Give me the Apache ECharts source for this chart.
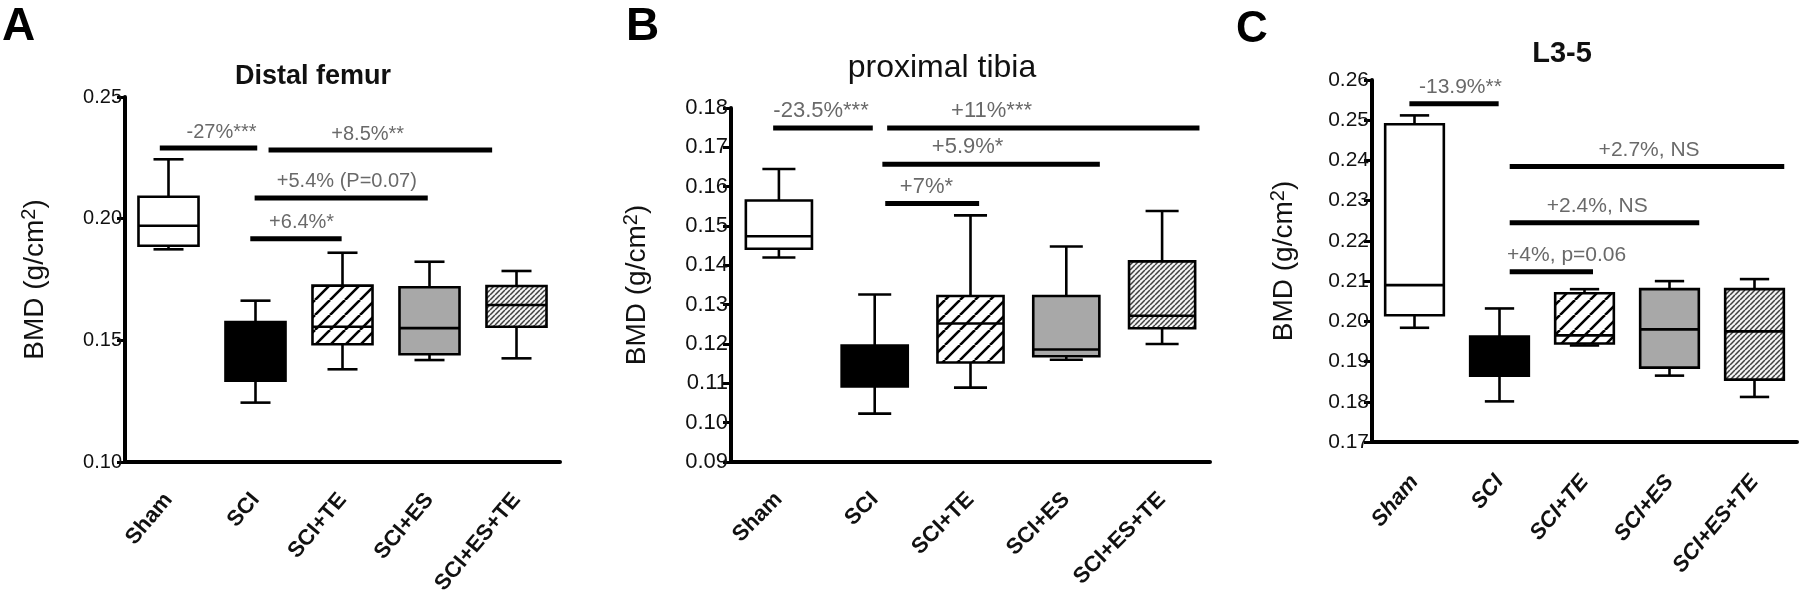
<!DOCTYPE html>
<html><head><meta charset="utf-8">
<script src="https://cdn.jsdelivr.net/npm/echarts@6/dist/echarts.min.js"></script>
<style>html,body{margin:0;padding:0;background:#fff}#c{width:1800px;height:608px}</style>
</head><body><div id="c"></div>
<script>
const categories = ['Sham', 'SCI', 'SCI+TE', 'SCI+ES', 'SCI+ES+TE'];
// each box: [min, Q1, median, Q3, max]
const femurBoxes = [
  [0.1874, 0.1889, 0.1971, 0.2090, 0.2244],
  [0.1244, 0.1334, 0.1450, 0.1575, 0.1663],
  [0.1381, 0.1484, 0.1556, 0.1725, 0.1860],
  [0.1419, 0.1443, 0.1550, 0.1718, 0.1823],
  [0.1426, 0.1556, 0.1645, 0.1723, 0.1785]
];
const tibiaBoxes = [
  [0.1420, 0.1442, 0.1474, 0.1565, 0.1645],
  [0.1023, 0.1092, 0.1140, 0.1196, 0.1326],
  [0.1089, 0.1153, 0.1252, 0.1322, 0.1527],
  [0.1160, 0.1169, 0.1186, 0.1322, 0.1448],
  [0.1200, 0.1240, 0.1272, 0.1410, 0.1538]
];
const lumbarBoxes = [
  [0.1984, 0.2015, 0.2090, 0.2490, 0.2512],
  [0.1801, 0.1865, 0.1920, 0.1962, 0.2032],
  [0.1940, 0.1945, 0.1965, 0.2070, 0.2080],
  [0.1865, 0.1885, 0.1980, 0.2080, 0.2100],
  [0.1812, 0.1855, 0.1975, 0.2080, 0.2105]
];
// comparisons: [from (category units), to, level, label centre, text]
const femurComparisons = [
  [-0.10, 1.02, 0.2290, 0.61, '-27%***'],
  [1.15, 3.72, 0.2282, 2.29, '+8.5%**'],
  [0.99, 2.98, 0.2085, 2.05, '+5.4% (P=0.07)'],
  [0.94, 1.99, 0.1917, 1.53, '+6.4%*']
];
const tibiaComparisons = [
  [-0.06, 0.98, 0.1749, 0.44, '-23.5%***'],
  [1.13, 4.39, 0.1749, 2.22, '+11%***'],
  [1.08, 3.35, 0.1657, 1.97, '+5.9%*'],
  [1.11, 2.09, 0.1557, 1.54, '+7%*']
];
const lumbarComparisons = [
  [-0.06, 0.99, 0.2541, 0.54, '-13.9%**'],
  [1.12, 4.35, 0.2385, 2.76, '+2.7%, NS'],
  [1.12, 3.35, 0.2245, 2.15, '+2.4%, NS'],
  [1.12, 2.10, 0.2123, 1.79, '+4%, p=0.06']
];
const femurTicks = {min: 0.10, max: 0.25, interval: 0.05};
const tibiaTicks = {min: 0.09, max: 0.18, interval: 0.01};
const lumbarTicks = {min: 0.17, max: 0.26, interval: 0.01};
const panelTitles = ['Distal femur', 'proximal tibia', 'L3-5'];
const panelLetters = ['A', 'B', 'C'];

const FONT = "'Liberation Sans', Arial, sans-serif";

function hatch(s, lw, color, bg) {
  const c = document.createElement('canvas');
  c.width = s; c.height = s;
  const g = c.getContext('2d');
  g.fillStyle = bg; g.fillRect(0, 0, s, s);
  g.strokeStyle = color; g.lineWidth = lw;
  g.beginPath();
  for (let k = -1; k <= 1; k++) {
    g.moveTo(k * s, s); g.lineTo(k * s + s, 0);
  }
  g.stroke();
  return {image: c, repeat: 'repeat'};
}
const groupFills = [
  '#ffffff',
  '#000000',
  hatch(15, 2.6, '#000', '#fff'),
  '#a8a8a8',
  hatch(5, 1.5, '#404040', '#f4f4f4')
];

function renderBox(params, api) {
  const i = api.value(0);
  const band = api.size([1, 0])[0];
  const bw = band * 0.69, cw = bw * 0.5;
  const pMin = api.coord([i, api.value(1)]);
  const pQ1 = api.coord([i, api.value(2)]);
  const pMd = api.coord([i, api.value(3)]);
  const pQ3 = api.coord([i, api.value(4)]);
  const pMax = api.coord([i, api.value(5)]);
  const x = pMin[0];
  const ls = {stroke: '#000', lineWidth: 2.6};
  return {
    type: 'group',
    children: [
      {type: 'line', shape: {x1: x, y1: pMax[1], x2: x, y2: pQ3[1]}, style: ls},
      {type: 'line', shape: {x1: x, y1: pQ1[1], x2: x, y2: pMin[1]}, style: ls},
      {type: 'line', shape: {x1: x - cw / 2, y1: pMax[1], x2: x + cw / 2, y2: pMax[1]}, style: ls},
      {type: 'line', shape: {x1: x - cw / 2, y1: pMin[1], x2: x + cw / 2, y2: pMin[1]}, style: ls},
      {type: 'rect', shape: {x: x - bw / 2, y: pQ3[1], width: bw, height: pQ1[1] - pQ3[1]},
        style: {fill: groupFills[i], stroke: '#000', lineWidth: 2.6}},
      {type: 'line', shape: {x1: x - bw / 2, y1: pMd[1], x2: x + bw / 2, y2: pMd[1]}, style: ls}
    ]
  };
}

const panels = [
  {boxes: femurBoxes, comps: femurComparisons, ticks: femurTicks,
   grid: {left: 125, top: 97, width: 435, height: 365}, rotate: 50, margin: 34,
   tickFont: 20, compFont: 20, nameGap: 74},
  {boxes: tibiaBoxes, comps: tibiaComparisons, ticks: tibiaTicks,
   grid: {left: 731, top: 108, width: 479, height: 354}, rotate: 45, margin: 34,
   tickFont: 22, compFont: 22, nameGap: 78},
  {boxes: lumbarBoxes, comps: lumbarComparisons, ticks: lumbarTicks,
   grid: {left: 1372, top: 80, width: 425, height: 362}, rotate: 50, margin: 36,
   tickFont: 21, compFont: 21, nameGap: 72}
];

const grid = [], xAxis = [], yAxis = [], series = [];
panels.forEach((p, k) => {
  grid.push(p.grid);
  xAxis.push({
    type: 'category', gridIndex: k, data: categories, boundaryGap: true,
    axisLine: {onZero: false, lineStyle: {color: '#000', width: 4}},
    axisTick: {alignWithLabel: true, length: 8, lineStyle: {color: '#000', width: 3}},
    axisLabel: {rotate: p.rotate, margin: p.margin, fontSize: 22, fontWeight: 'bold',
      color: '#111', fontFamily: FONT, fontStyle: k === 2 ? 'italic' : 'normal', interval: 0},
    splitLine: {show: false}
  });
  yAxis.push({
    type: 'value', gridIndex: k, min: p.ticks.min, max: p.ticks.max, interval: p.ticks.interval,
    axisLine: {show: true, onZero: false, lineStyle: {color: '#000', width: 4}},
    axisTick: {show: true, length: 8, lineStyle: {color: '#000', width: 3}},
    axisLabel: {fontSize: p.tickFont, color: '#111', fontFamily: FONT, margin: 3,
      formatter: v => v.toFixed(2)},
    splitLine: {show: false},
    name: '{a|BMD (g/cm}{b|2}{a|)}', nameLocation: 'middle', nameRotate: 90, nameGap: p.nameGap,
    nameTextStyle: {rich: {
      a: {fontSize: 28, fontFamily: FONT, color: '#111', lineHeight: 32},
      b: {fontSize: 20, fontFamily: FONT, color: '#111', verticalAlign: 'top', lineHeight: 32}
    }}
  });
});
panels.forEach((p, k) => {
  xAxis.push({type: 'value', gridIndex: k, min: -0.5, max: 4.5, show: false,
    axisLine: {onZero: false}});
});
panels.forEach((p, k) => {
  series.push({
    type: 'custom', xAxisIndex: k, yAxisIndex: k, renderItem: renderBox, clip: false,
    data: p.boxes.map((b, i) => [i].concat(b)), silent: true
  });
  p.comps.forEach(c => {
    series.push({
      type: 'line', xAxisIndex: 3 + k, yAxisIndex: k, symbol: 'none', silent: true,
      lineStyle: {color: '#000', width: 5},
      data: [[c[0], c[2]], [c[1], c[2]]]
    });
  });
  series.push({
    type: 'scatter', xAxisIndex: 3 + k, yAxisIndex: k, symbolSize: 0, silent: true,
    itemStyle: {color: 'rgba(0,0,0,0)'},
    label: {show: true, position: 'top', distance: 6, fontSize: p.compFont, fontFamily: FONT,
      color: '#444', formatter: d => d.data[2]},
    data: p.comps.map(c => [c[3], c[2], c[4]])
  });
});

const graphic = [
  {type: 'text', x: 2, y: 27, style: {text: panelLetters[0], font: 'bold 46px ' + FONT, fill: '#000', textVerticalAlign: 'middle'}},
  {type: 'text', x: 626, y: 27, style: {text: panelLetters[1], font: 'bold 46px ' + FONT, fill: '#000', textVerticalAlign: 'middle'}},
  {type: 'text', x: 1236, y: 30, style: {text: panelLetters[2], font: 'bold 44px ' + FONT, fill: '#000', textVerticalAlign: 'middle'}},
  {type: 'text', x: 313, y: 77, style: {text: panelTitles[0], font: 'bold 27px ' + FONT, fill: '#111', textAlign: 'center', textVerticalAlign: 'middle'}},
  {type: 'text', x: 942, y: 68, style: {text: panelTitles[1], font: '32px ' + FONT, fill: '#111', textAlign: 'center', textVerticalAlign: 'middle'}},
  {type: 'text', x: 1562, y: 54, style: {text: panelTitles[2], font: 'bold 29px ' + FONT, fill: '#111', textAlign: 'center', textVerticalAlign: 'middle'}}
];

const chart = echarts.init(document.getElementById('c'), null, {renderer: 'canvas'});
chart.setOption({animation: false, backgroundColor: '#fff', grid, xAxis, yAxis, series, graphic});
</script></body></html>
